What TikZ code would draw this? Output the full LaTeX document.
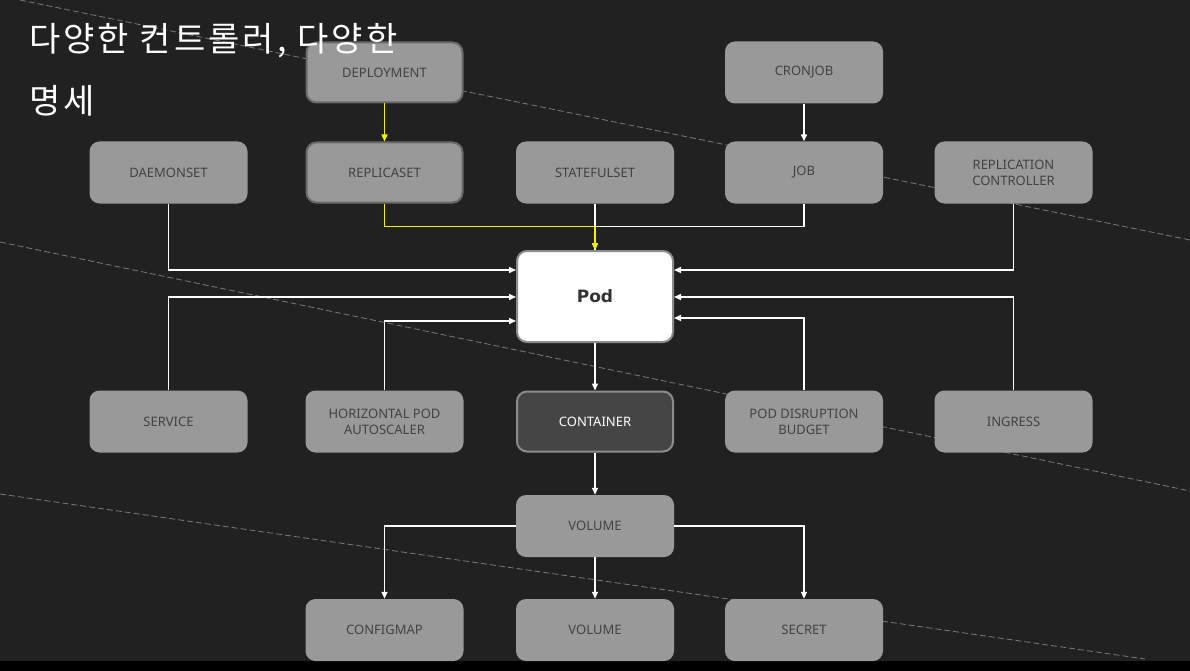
\documentclass[tikz,border=0pt]{standalone}
\usepackage{fontspec}
\setmainfont{Noto Sans}
\newfontfamily\krfont{Noto Sans CJK KR}[LetterSpace=9]
\newfontfamily\podfont{DejaVu Sans}
\usetikzlibrary{arrows.meta,calc}
\definecolor{bg}{HTML}{212121}
\definecolor{boxfill}{HTML}{999999}
\definecolor{boxtext}{HTML}{424242}
\definecolor{boxedge}{HTML}{6A6A6A}
\definecolor{contfill}{HTML}{454545}
\definecolor{contedge}{HTML}{8C8C8C}
\definecolor{diagline}{HTML}{7A7A7A}
\definecolor{ylw}{HTML}{F2F200}
\definecolor{podtext}{HTML}{333333}
\tikzset{
  box/.style={fill=boxfill, draw=none, rounded corners=10pt, minimum width=158pt, minimum height=62pt,
    text=boxtext, align=center, font=\fontsize{13}{16}\selectfont, inner sep=0pt},
  boxedged/.style={box, draw=boxedge, line width=2pt, minimum width=156pt, minimum height=60pt},
  podbox/.style={box, fill=white, draw=contedge, line width=2pt, minimum width=156pt, minimum height=91pt,
    text=podtext, font=\podfont\bfseries\fontsize{17}{20}\selectfont},
  contbox/.style={box, fill=contfill, draw=contedge, line width=2pt, minimum width=156pt, minimum height=60pt,
    text=white},
  diag/.style={draw=diagline, line width=0.8pt, dash pattern=on 6pt off 3pt},
  wh/.style={draw=white, line width=1.4pt, -{Triangle[length=7pt,width=6pt]}},
  whplain/.style={draw=white, line width=1.4pt},
  yl/.style={draw=ylw, line width=1.4pt, -{Triangle[length=7pt,width=6pt]}},
  ttl/.style={text=white, font=\krfont\fontsize{34}{40}\selectfont, anchor=base west, inner sep=0pt}
}
\begin{document}
\begin{tikzpicture}[x=1pt,y=-1pt]
\fill[bg] (0,0) rectangle (1190,671);
\fill[black] (0,661) rectangle (1190,671);
\useasboundingbox (0,0) rectangle (1190,671);
% diagonal dashed lines
\coordinate (d1a) at (20,0);
\coordinate (d1b) at (1190,240);
\coordinate (d2a) at (0,242);
\coordinate (d2b) at (1190,491);
\coordinate (d3a) at (0,494);
\coordinate (d3b) at (1145,659);
\draw[diag] (d1a) -- (d1b);
\draw[diag] (d2a) -- (d2b);
\draw[diag] (d3a) -- (d3b);
% nodes
\node[boxedged] (deploy) at (384.5,72.5) {DEPLOYMENT};
\node[box] (cron) at (804,72.5) {CRONJOB};
\node[box] (ds) at (168.5,172.5) {DAEMONSET};
\node[boxedged] (rs) at (384.5,172.5) {REPLICASET};
\node[box] (ss) at (595,172.5) {STATEFULSET};
\node[box] (job) at (804,172.5) {JOB};
\node[box] (rc) at (1013.5,172.5) {REPLICATION\\CONTROLLER};
\node[podbox] (pod) at (595,296.5) {Pod};
\node[box] (svc) at (168.5,421.5) {SERVICE};
\node[box] (hpa) at (384.5,421.5) {HORIZONTAL POD\\AUTOSCALER};
\node[contbox] (cont) at (595,421.5) {CONTAINER};
\node[box] (pdb) at (804,421.5) {POD DISRUPTION\\BUDGET};
\node[box] (ing) at (1013.5,421.5) {INGRESS};
\node[box] (vol) at (595,526) {VOLUME};
\node[box] (cm) at (384.5,630) {CONFIGMAP};
\node[box] (vol2) at (595,630) {VOLUME};
\node[box] (sec) at (804,630) {SECRET};
% title (drawn over the boxes)
\node[ttl] (t1) at (29,52) {다양한 컨트롤러, 다양한};
\node[ttl] (t2) at (29,114) {명세};
% connectors
\draw[wh] (cron.south) -- (job.north);
\draw[wh] (ss.south) -- (pod.north);
\draw[whplain] (job.south) -- ++(0,23) -| (pod.north);
\draw[yl] (deploy.south) -- (rs.north);
\draw[yl] (rs.south) -- ++(0,23) -| (pod.north);
\draw[wh] (ds.south) |- ($(pod.west)+(0,-26.5)$);
\draw[wh] (svc.north) |- ($(pod.west)+(0,0.5)$);
\draw[wh] (hpa.north) |- ($(pod.west)+(0,24.5)$);
\draw[wh] (rc.south) |- ($(pod.east)+(0,-26.5)$);
\draw[wh] (ing.north) |- ($(pod.east)+(0,0.5)$);
\draw[wh] (pdb.north) |- ($(pod.east)+(0,21.5)$);
\draw[wh] (pod.south) -- (cont.north);
\draw[wh] (cont.south) -- (vol.north);
\draw[wh] (vol.south) -- (vol2.north);
\draw[wh] (vol.west) -| (cm.north);
\draw[wh] (vol.east) -| (sec.north);
\end{tikzpicture}
\end{document}
